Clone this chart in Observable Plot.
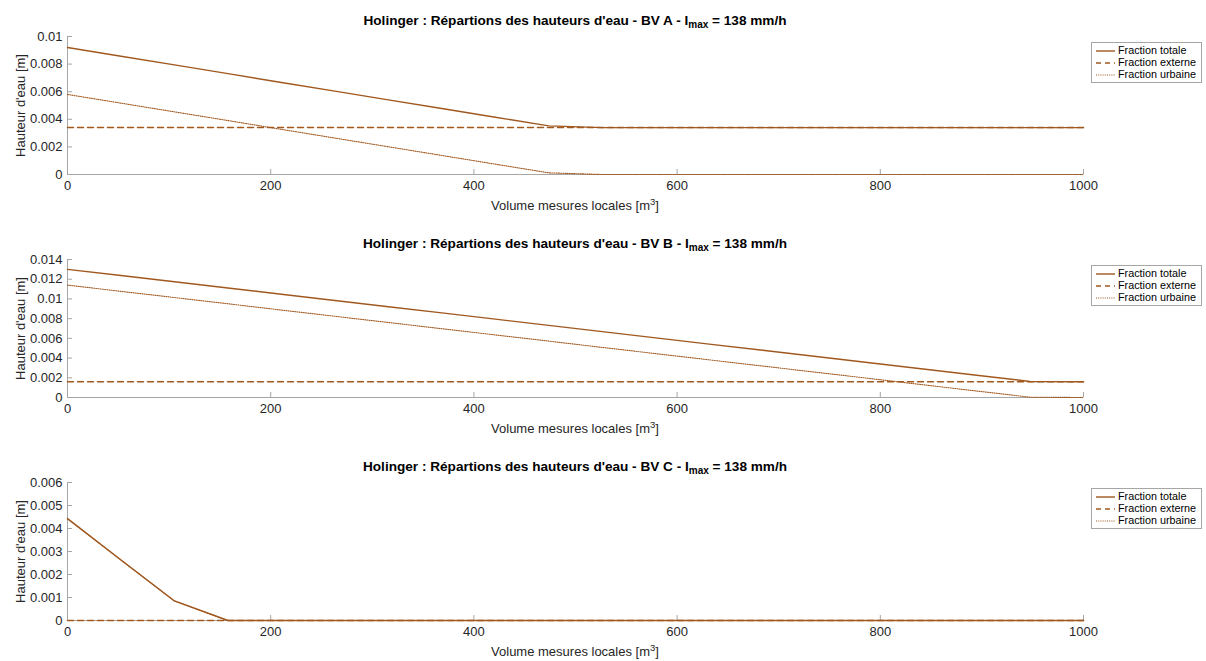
<!DOCTYPE html>
<html>
<head>
<meta charset="utf-8">
<script src="https://cdn.jsdelivr.net/npm/d3@7"></script>
<script src="https://cdn.jsdelivr.net/npm/@observablehq/plot@0.6"></script>
<style>
  body { margin: 0; background: #fff; font-family: "Liberation Sans", Arial, sans-serif; }
  #root { position: relative; width: 1206px; height: 661px; }
  .panel { position: absolute; left: 0; width: 1206px; height: 223px; }
  .title { position: absolute; left: 67px; width: 1016px; top: 13px; text-align: center; font-weight: bold; font-size: 13.6px; line-height: 15px; color: #000; }
  .title sub { font-size: 10px; vertical-align: -3px; line-height: 0; }
  .xlabel { position: absolute; left: 67px; width: 1016px; top: 198px; text-align: center; font-size: 13px; line-height: 15px; color: #262626; }
  .xlabel sup { font-size: 9.5px; vertical-align: 5px; line-height: 0; }
  .svgwrap { position: absolute; left: 0; top: 26px; }
  .legend { position: absolute; left: 1091px; top: 42px; width: 109px; height: 39px; border: 1px solid #a6a6a6; background: #fff; font-size: 10.8px; color: #000; }
  .legend .row { position: absolute; left: 3px; height: 12px; line-height: 12px; white-space: nowrap; }
  .legend svg { vertical-align: middle; margin-right: 2px; }
</style>
</head>
<body>
<div id="root"></div>
<script>
// ---- data ----
const xVolume = [0, 52.63, 105.26, 157.89, 210.53, 263.16, 315.79, 368.42, 421.05, 473.68,
                 526.32, 578.95, 631.58, 684.21, 736.84, 789.47, 842.11, 894.74, 947.37, 1000];

const totaleA  = [0.0092, 0.00857, 0.00794, 0.00731, 0.00667, 0.00604, 0.00541, 0.00478, 0.00415, 0.00352,
                  0.0034, 0.0034, 0.0034, 0.0034, 0.0034, 0.0034, 0.0034, 0.0034, 0.0034, 0.0034];
const externeA = [0.0034, 0.0034, 0.0034, 0.0034, 0.0034, 0.0034, 0.0034, 0.0034, 0.0034, 0.0034,
                  0.0034, 0.0034, 0.0034, 0.0034, 0.0034, 0.0034, 0.0034, 0.0034, 0.0034, 0.0034];
const urbaineA = [0.0058, 0.00517, 0.00454, 0.00391, 0.00327, 0.00264, 0.00201, 0.00138, 0.00075, 0.00012,
                  0, 0, 0, 0, 0, 0, 0, 0, 0, 0];

const totaleB  = [0.013, 0.01237, 0.01174, 0.01111, 0.01047, 0.00984, 0.00921, 0.00858, 0.00795, 0.00732,
                  0.00668, 0.00605, 0.00542, 0.00479, 0.00416, 0.00353, 0.00289, 0.00226, 0.00163, 0.0016];
const externeB = [0.0016, 0.0016, 0.0016, 0.0016, 0.0016, 0.0016, 0.0016, 0.0016, 0.0016, 0.0016,
                  0.0016, 0.0016, 0.0016, 0.0016, 0.0016, 0.0016, 0.0016, 0.0016, 0.0016, 0.0016];
const urbaineB = [0.0114, 0.01077, 0.01014, 0.00951, 0.00887, 0.00824, 0.00761, 0.00698, 0.00635, 0.00572,
                  0.00508, 0.00445, 0.00382, 0.00319, 0.00256, 0.00193, 0.00129, 0.00066, 0.00003, 0];

const totaleC  = [0.00443, 0.00263, 0.00085, 0, 0, 0, 0, 0, 0, 0, 0, 0, 0, 0, 0, 0, 0, 0, 0, 0];
const externeC = [0, 0, 0, 0, 0, 0, 0, 0, 0, 0, 0, 0, 0, 0, 0, 0, 0, 0, 0, 0];
const urbaineC = [0.00443, 0.00263, 0.00085, 0, 0, 0, 0, 0, 0, 0, 0, 0, 0, 0, 0, 0, 0, 0, 0, 0];

const panelNames = ["A", "B", "C"];
const yMax = [0.01, 0.014, 0.006];
const yTicksA = [0, 0.002, 0.004, 0.006, 0.008, 0.01];
const yTicksB = [0, 0.002, 0.004, 0.006, 0.008, 0.01, 0.012, 0.014];
const yTicksC = [0, 0.001, 0.002, 0.003, 0.004, 0.005, 0.006];
const xTicks = [0, 200, 400, 600, 800, 1000];
const seriesNames = ["Fraction totale", "Fraction externe", "Fraction urbaine"];
const titleText = "Holinger : Répartions des hauteurs d'eau - BV ";
const imaxText = " = 138 mm/h";
const xLabelText = "Volume mesures locales [m";
const yLabelText = "Hauteur d'eau [m]";

// ---- styles ----
const lineColor = "#a0581f";
const dashes = [null, "6,4", "1,1.2"];
const widths = [1.4, 1.5, 1.1];
const axisColor = "#a6a6a6";
const textColor = "#262626";

const panels = [
  {tot: totaleA, ext: externeA, urb: urbaineA, ticks: yTicksA},
  {tot: totaleB, ext: externeB, urb: urbaineB, ticks: yTicksB},
  {tot: totaleC, ext: externeC, urb: urbaineC, ticks: yTicksC}
];

const root = document.getElementById("root");

panels.forEach((p, i) => {
  const panel = document.createElement("div");
  panel.className = "panel";
  panel.style.top = (i * 223) + "px";
  root.appendChild(panel);

  const t = document.createElement("div");
  t.className = "title";
  t.innerHTML = titleText + panelNames[i] + " - I<sub>max</sub>" + imaxText;
  panel.appendChild(t);

  const series = [p.tot, p.ext, p.urb];
  const marks = [
    Plot.ruleX([0], {stroke: axisColor, strokeWidth: 1}),
    Plot.ruleY([0], {stroke: axisColor, strokeWidth: 1}),
    Plot.axisX({ticks: xTicks, tickSize: -5, tickPadding: 11, stroke: axisColor, color: textColor,
                fontSize: 13, label: null, tickFormat: d => String(d)}),
    Plot.axisY({ticks: p.ticks, tickSize: -5, tickPadding: 10, stroke: axisColor, color: textColor,
                fontSize: 13, label: null, tickFormat: d => d3.format("~g")(d)}),
    Plot.text([yLabelText], {frameAnchor: "left", textAnchor: "middle", rotate: -90, dx: -47,
                             fontSize: 13, fill: textColor}),
    ...series.map((s, k) => Plot.line(xVolume.map((x, j) => ({x, y: s[j]})), {
      x: "x", y: "y", stroke: lineColor, strokeWidth: widths[k],
      strokeDasharray: dashes[k]
    }))
  ];

  const chart = Plot.plot({
    width: 1206,
    height: 188,
    marginTop: 10,
    marginBottom: 40,
    marginLeft: 67,
    marginRight: 123,
    style: {fontFamily: '"Liberation Sans", Arial, sans-serif', fontSize: "13px", background: "transparent", overflow: "visible"},
    x: {domain: [0, 1000]},
    y: {domain: [0, yMax[i]]},
    marks
  });
  const wrap = document.createElement("div");
  wrap.className = "svgwrap";
  wrap.appendChild(chart);
  panel.appendChild(wrap);

  const xl = document.createElement("div");
  xl.className = "xlabel";
  xl.innerHTML = xLabelText + "<sup>3</sup>]";
  panel.appendChild(xl);

  const lg = document.createElement("div");
  lg.className = "legend";
  seriesNames.forEach((name, k) => {
    const row = document.createElement("div");
    row.className = "row";
    row.style.top = (1 + k * 12) + "px";
    const dash = dashes[k] ? ` stroke-dasharray="${k === 1 ? "5,4" : "1,1.2"}"` : "";
    row.innerHTML = `<svg width="21" height="6"><line x1="1" x2="20" y1="3" y2="3" stroke="${lineColor}" stroke-width="${widths[k]}"${dash}/></svg>` + name;
    lg.appendChild(row);
  });
  panel.appendChild(lg);
});
</script>
</body>
</html>
